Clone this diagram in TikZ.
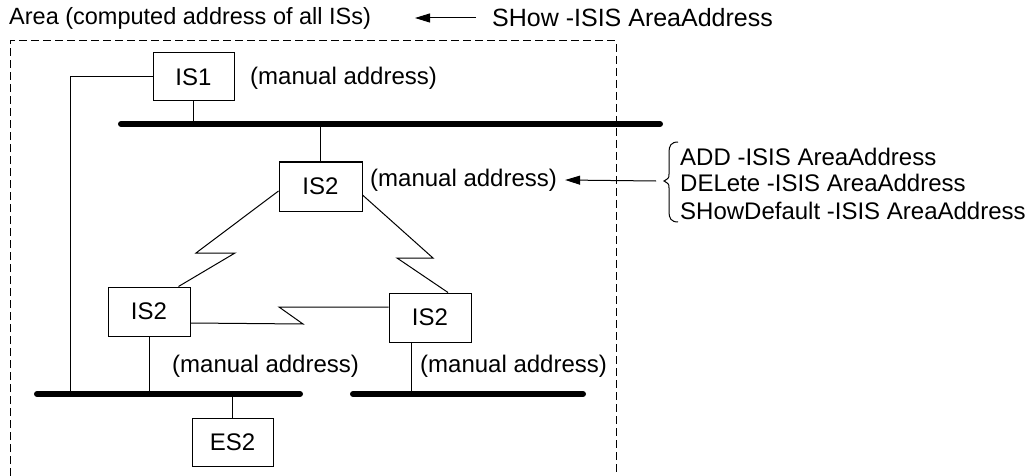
\documentclass[tikz,border=0pt]{standalone}
\usepackage{fontspec}
\setmainfont{Liberation Sans}
\usetikzlibrary{arrows.meta,calc}
\begin{document}
\begin{tikzpicture}[x=1pt,y=-1pt,
  txt/.style={font=\fontsize{24}{28}\selectfont},
  box/.style={draw,line width=1pt,minimum width=81pt,minimum height=48pt,inner sep=0pt,txt},
  lbl/.style={inner sep=0pt,anchor=west,txt},
  wire/.style={line width=1pt},
  bus/.style={line width=6pt,line cap=round},
  area/.style={line width=1pt,dash pattern=on 8pt off 4pt},
  arr/.style={line width=1pt,-{Triangle[length=15pt,width=9pt]}}]
\useasboundingbox (0,0) rectangle (1036,476);

% area boundary
\draw[area] (10,476) -- (10,41) -- (616,41) -- (616,476);

% top texts
\node[lbl,font=\fontsize{23.5}{28}\selectfont] (area) at (9,18) {Area (computed address of all ISs)};
\node[lbl,font=\fontsize{25}{28}\selectfont] (show) at (492,18) {SHow -ISIS AreaAddress};
\coordinate (atip) at (415,18);
\draw[arr] ($(show.west)+(-16,0)$) -- (atip);

% boxes
\node[box] (is1) at (193.5,77) {IS1};
\node[box,minimum width=83pt,minimum height=49pt] (is2t) at (320.5,186.5) {IS2};
\node[box,minimum width=82pt,minimum height=49pt] (is2l) at (149,311.5) {IS2};
\node[box,minimum width=82pt,minimum height=49pt] (is2r) at (430,317.5) {IS2};
\node[box] (es2) at (232.5,442) {ES2};

% buses
\coordinate (tb1) at (121,124); \coordinate (tb2) at (660,124);
\coordinate (lb1) at (37,394);  \coordinate (lb2) at (300,394);
\coordinate (rb1) at (353,394); \coordinate (rb2) at (583,394);
\draw[bus] (tb1) -- (tb2);
\draw[bus] (lb1) -- (lb2);
\draw[bus] (rb1) -- (rb2);

% drops
\coordinate (lc) at (70,394);
\draw[wire] (is1.south) -- (is1.south |- tb1);
\draw[wire] (is1.west) -| (lc);
\draw[wire] (is2t.north) -- (is2t.north |- tb1);
\draw[wire] (is2l.south) -- (is2l.south |- lb1);
\coordinate (r0) at ($(is2r.south)+(-19,0)$);
\draw[wire] (r0) -- (r0 |- rb1);
\draw[wire] (es2.north) -- (es2.north |- lb1);

% serial links (zigzag)
\draw[wire] ($(is2t.west)+(0,4.5)$) -- (196,253) -- (235,253) -- ($(is2l.north east)+(-12,0)$);
\draw[wire] ($(is2t.east)+(0,8.5)$) -- (433,258) -- (397,258) -- ($(is2r.north)+(18,0)$);
\draw[wire] ($(is2l.east)+(0,11.5)$) -- (303,324) -- (279,307) -- ($(is2r.west)+(0,-10.5)$);

% labels
\node[lbl] (ma1) at (250,78) {(manual address)};
\node[lbl] (ma2) at (370,180) {(manual address)};
\node[lbl] (ma3) at (172,366) {(manual address)};
\node[lbl] (ma4) at (420,366) {(manual address)};

% command list with brace
\node[lbl] (add) at (680,157) {ADD -ISIS AreaAddress};
\node[lbl] (del) at (680,183) {DELete -ISIS AreaAddress};
\node[lbl] (sdf) at (680,211) {SHowDefault -ISIS AreaAddress};
\draw[wire] (678,142) .. controls (671,142) and (669,146) .. (669,152) -- (669,174)
  .. controls (669,178) .. (664,181) .. controls (669,184) .. (669,188) -- (669,212)
  .. controls (669,218) and (671,222) .. (678,222);
\coordinate (bt) at (656,181);
\draw[arr] (bt) -- ($(ma2.east)+(8,0)$);
\end{tikzpicture}
\end{document}
